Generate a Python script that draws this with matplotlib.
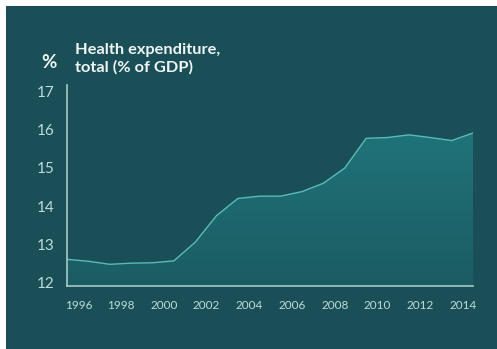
import numpy as np
import matplotlib
matplotlib.use("Agg")
import matplotlib.pyplot as plt
from matplotlib.patches import Rectangle
import matplotlib.transforms as mtransforms

# health expenditure, total (% of GDP)
years = [1995, 1996, 1997, 1998, 1999, 2000, 2001, 2002, 2003, 2004,
         2005, 2006, 2007, 2008, 2009, 2010, 2011, 2012, 2013, 2014]
values = [12.6, 12.55, 12.47, 12.5, 12.51, 12.56, 13.05, 13.75, 14.2, 14.26,
          14.26, 14.38, 14.6, 15.0, 15.78, 15.8, 15.87, 15.8, 15.72, 15.92]
tick_years = [1996, 1998, 2000, 2002, 2004, 2006, 2008, 2010, 2012, 2014]
y_ticks = [12, 13, 14, 15, 16, 17]

bg = "#1b4f57"
fill_top = "#20737a"
fill_bot = "#1b5c62"
line_col = "#56bcb8"
axis_col = "#a6c9c8"
tick_col = "#bcdcda"
title_col = "#eef5f3"

fig = plt.figure(figsize=(4.97, 3.49), dpi=100, facecolor="white")
# dark panel with a thin white margin top/left
fig.patches.append(Rectangle((6 / 497, 0), 1, 1 - 6 / 349, transform=fig.transFigure,
                             facecolor=bg, edgecolor="none", zorder=-10))

ax = fig.add_axes([67 / 497, 1 - 286 / 349, (473 - 67) / 497, (286 - 85) / 349])
ax.set_facecolor("none")
ax.set_xlim(years[0], years[-1])
ax.set_ylim(11.9, 17.18)

# gradient fill under the line
grad = np.linspace(0, 1, 256).reshape(-1, 1)
cmap = matplotlib.colors.LinearSegmentedColormap.from_list("g", [fill_bot, fill_top])
img = ax.imshow(grad, cmap=cmap, aspect="auto", origin="lower",
                extent=[years[0], years[-1], 11.9, max(values)], zorder=1)
poly = ax.fill_between(years, values, 11.9, color="none")
clip = poly.get_paths()[0]
img.set_clip_path(clip, transform=ax.transData)
ax.plot(years, values, color=line_col, lw=1.0, zorder=3)

for s in ["top", "right"]:
    ax.spines[s].set_visible(False)
for s in ["left", "bottom"]:
    ax.spines[s].set_color(axis_col)
    ax.spines[s].set_linewidth(1.2)
    ax.spines[s].set_zorder(4)

ax.set_xticks(tick_years)
ax.set_xticklabels([str(y) for y in tick_years])
ax.set_yticks(y_ticks)
ax.set_yticklabels([str(v) for v in y_ticks])
ax.tick_params(axis="x", length=0, pad=10, labelsize=8.5, labelcolor=tick_col)
ax.tick_params(axis="y", length=0, pad=9, labelsize=11, labelcolor=tick_col)
for lab in ax.get_xticklabels():
    lab.set_fontfamily("Lato")
    lab.set_transform(lab.get_transform() + mtransforms.ScaledTranslation(-0.1, 0, fig.dpi_scale_trans))
for lab in ax.get_yticklabels():
    lab.set_fontfamily("Lato")

fig.text(49 / 497, 1 - 62 / 349, "%", ha="center", va="center", fontsize=13.5,
         fontweight="bold", color=title_col, fontfamily="Lato")
fig.text(75 / 497, 1 - 43 / 349, "Health expenditure,\ntotal (% of GDP)", ha="left", va="top",
         fontsize=11.8, fontweight="bold", color=title_col, fontfamily="Lato", linespacing=1.25)

fig.savefig("out.png", dpi=100, facecolor="white")
